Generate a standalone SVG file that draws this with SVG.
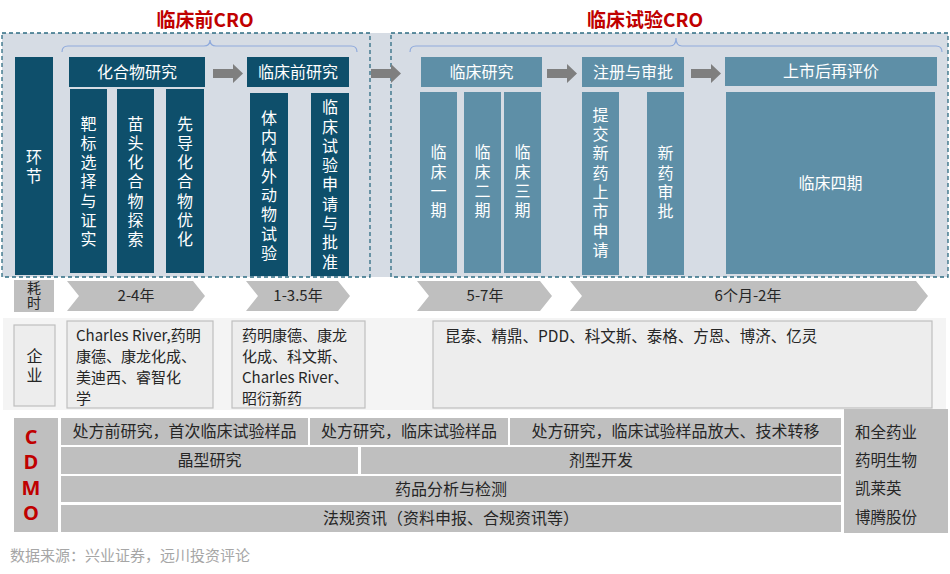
<svg xmlns="http://www.w3.org/2000/svg" width="950" height="574" viewBox="0 0 950 574">
<style>
text{font-family:"Noto Sans CJK SC","Noto Sans",sans-serif;}
.dk{fill:#0E4F6B;}
.lt{fill:#5E8FA7;}
.wt{fill:#fff;font-size:16px;text-anchor:middle;}
.vt{fill:#fff;font-size:16px;text-anchor:middle;writing-mode:vertical-rl;letter-spacing:3.3px;}
.ttl{fill:#C00000;font-size:19px;font-weight:bold;text-anchor:middle;}
.dash{fill:none;stroke:#2E6C82;stroke-width:1.3;stroke-dasharray:4 3;}
.brace{fill:none;stroke:#8FAADC;stroke-width:1.2;}
.arr{fill:#7F7F7F;}
.chev{fill:#BFBFBF;}
.ct{fill:#262626;font-size:15px;text-anchor:middle;}
.cv{fill:#262626;text-anchor:middle;writing-mode:vertical-rl;}
.cr{fill:#262626;font-size:16px;text-anchor:middle;}
.cbox{fill:#EDEDED;stroke:#BFBFBF;stroke-width:1.2;}
.ctx{fill:#262626;font-size:15px;}
.cd{fill:#BFBFBF;}
.red{fill:#C00000;font-size:20px;font-weight:bold;text-anchor:middle;font-family:"Open Sans","Noto Sans",sans-serif;}
</style>
<rect width="950" height="574" fill="#fff"/>
<rect x="2" y="33" width="946" height="244" fill="#D6DCE4"/>
<text class="ttl" x="205" y="27">临床前CRO</text>
<text class="ttl" x="645" y="27">临床试验CRO</text>
<rect class="dash" x="2" y="33" width="368" height="244"/>
<rect class="dash" x="391" y="33" width="557" height="244"/>
<path class="brace" d="M62,52 Q62,46 68,46 L204,46 Q210,46 210,40 Q210,46 216,46 L351,46 Q357,46 357,52"/>
<path class="brace" d="M410,52 Q410,46 416,46 L670,46 Q676,46 676,38 Q676,46 682,46 L936,46 Q942,46 942,52"/>

<g id="connectors">
<path class="arr" d="M213,69 H233 V64 L243,73.5 L233,83 V78 H213 Z"/>
<path class="arr" d="M371,69 H391 V64 L401,73.5 L391,83 V78 H371 Z"/>
<path class="arr" d="M547,69 H567 V64 L577,73.5 L567,83 V78 H547 Z"/>
<path class="arr" d="M691,69 H711 V64 L721,73.5 L711,83 V78 H691 Z"/>
</g>

<g id="n-huanjie"><rect class="dk" x="15" y="57" width="38" height="218"/><text class="vt" x="34" y="168">环节</text></g>

<g id="n-hhw"><rect class="dk" x="69" y="57" width="136" height="30"/><text class="wt" x="137" y="78">化合物研究</text></g>
<g id="n-bb"><rect class="dk" x="70" y="89" width="37" height="184"/><text class="vt" x="88.5" y="183">靶标选择与证实</text></g>
<g id="n-mt"><rect class="dk" x="117" y="89" width="37" height="184"/><text class="vt" x="135.5" y="183">苗头化合物探索</text></g>
<g id="n-xd"><rect class="dk" x="166" y="89" width="38" height="184"/><text class="vt" x="185" y="183">先导化合物优化</text></g>

<g id="n-lcq"><rect class="dk" x="247" y="57" width="102" height="30"/><text class="wt" x="298" y="78">临床前研究</text></g>
<g id="n-tn"><rect class="dk" x="250" y="93" width="38" height="183"/><text class="vt" x="269" y="187">体内体外动物试验</text></g>
<g id="n-lcsy"><rect class="dk" x="311" y="93" width="38" height="183"/><text class="vt" x="330" y="186">临床试验申请与批准</text></g>

<g id="n-lcyj"><rect class="lt" x="421" y="57" width="121" height="30"/><text class="wt" x="481.5" y="78">临床研究</text></g>
<g id="n-l1"><rect class="lt" x="420" y="92" width="37" height="181"/><text class="vt" x="438.5" y="183">临床一期</text></g>
<g id="n-l2"><rect class="lt" x="464" y="92" width="37" height="181"/><text class="vt" x="482.5" y="183">临床二期</text></g>
<g id="n-l3"><rect class="lt" x="504" y="92" width="37" height="181"/><text class="vt" x="522.5" y="183">临床三期</text></g>

<g id="n-zc"><rect class="lt" x="582" y="57" width="102" height="30"/><text class="wt" x="633" y="78">注册与审批</text></g>
<g id="n-tj"><rect class="lt" x="582" y="92" width="37" height="183"/><text class="vt" x="600.5" y="184">提交新药上市申请</text></g>
<g id="n-xy"><rect class="lt" x="647" y="92" width="37" height="183"/><text class="vt" x="665.5" y="184">新药审批</text></g>

<g id="n-ss"><rect class="lt" x="725" y="57" width="212" height="29"/><text class="wt" x="831" y="77">上市后再评价</text></g>
<g id="n-l4"><rect class="lt" x="726" y="92" width="209" height="182"/><text class="wt" x="830.5" y="189">临床四期</text></g>

<g id="n-haoshi"><rect class="cd" x="14" y="280" width="40" height="32"/>
<text class="cv" style="font-size:14px;letter-spacing:1.5px" x="34" y="296">耗时</text></g>
<g id="t1"><path class="chev" d="M67,281 H193 L205,296 L193,311 H67 L79,296 Z"/><text class="ct" x="136" y="301">2-4年</text></g>
<g id="t2"><path class="chev" d="M246,281 H338 L350,296 L338,311 H246 L258,296 Z"/><text class="ct" x="298" y="301">1-3.5年</text></g>
<g id="t3"><path class="chev" d="M417,281 H540 L552,296 L540,311 H417 L429,296 Z"/><text class="ct" x="485" y="301">5-7年</text></g>
<g id="t4"><path class="chev" d="M570,281 H916 L928,296 L916,311 H570 L582,296 Z"/><text class="ct" x="748" y="301">6个月-2年</text></g>

<rect x="3" y="318" width="943" height="92" fill="#F4F4F4"/>
<g id="n-qy"><rect class="cbox" x="14" y="325" width="41" height="81"/>
<text class="cv" style="font-size:16px;letter-spacing:3px" x="34.5" y="367">企业</text></g>
<g id="c1"><rect class="cbox" x="67" y="321" width="146" height="87"/>
<text class="ctx"><tspan x="76" y="341">Charles River,药明</tspan><tspan x="76" y="362">康德、康龙化成、</tspan><tspan x="76" y="383">美迪西、睿智化</tspan><tspan x="76" y="404">学</tspan></text></g>
<g id="c2"><rect class="cbox" x="232" y="321" width="133" height="87"/>
<text class="ctx"><tspan x="242" y="341">药明康德、康龙</tspan><tspan x="242" y="362">化成、科文斯、</tspan><tspan x="242" y="383">Charles River、</tspan><tspan x="242" y="404">昭衍新药</tspan></text></g>
<g id="c3"><rect class="cbox" x="433" y="321" width="499" height="87"/>
<text class="ctx" style="font-size:15.5px" x="445" y="342">昆泰、精鼎、PDD、科文斯、泰格、方恩、博济、亿灵</text></g>

<g id="n-cdmo"><rect class="cd" x="14" y="418" width="44" height="114"/>
<text class="red"><tspan x="31" y="444">C</tspan><tspan x="31" y="469">D</tspan><tspan x="31" y="495">M</tspan><tspan x="31" y="520">O</tspan></text></g>
<g id="r1a"><rect class="cd" x="61" y="418" width="247" height="27"/><text class="cr" x="184.5" y="437">处方前研究，首次临床试验样品</text></g>
<g id="r1b"><rect class="cd" x="310" y="418" width="198" height="27"/><text class="cr" x="409" y="437">处方研究，临床试验样品</text></g>
<g id="r1c"><rect class="cd" x="510" y="418" width="331" height="27"/><text class="cr" x="675.5" y="437">处方研究，临床试验样品放大、技术转移</text></g>
<g id="r2a"><rect class="cd" x="61" y="447" width="297" height="27"/><text class="cr" x="209.5" y="466">晶型研究</text></g>
<g id="r2b"><rect class="cd" x="361" y="447" width="480" height="27"/><text class="cr" x="601" y="466">剂型开发</text></g>
<g id="r3"><rect class="cd" x="61" y="476" width="780" height="26"/><text class="cr" x="451" y="495">药品分析与检测</text></g>
<g id="r4"><rect class="cd" x="61" y="505" width="780" height="27"/><text class="cr" x="451" y="524">法规资讯（资料申报、合规资讯等）</text></g>
<g id="n-cdmoco"><rect class="cd" x="844" y="409" width="104" height="124"/>
<text class="ctx" style="font-size:15.5px"><tspan x="855" y="438">和全药业</tspan><tspan x="855" y="466">药明生物</tspan><tspan x="855" y="494">凯莱英</tspan><tspan x="855" y="523">博腾股份</tspan></text></g>

<text x="10" y="561" style="fill:#A6A6A6;font-size:15px">数据来源：兴业证券，远川投资评论</text>
</svg>
